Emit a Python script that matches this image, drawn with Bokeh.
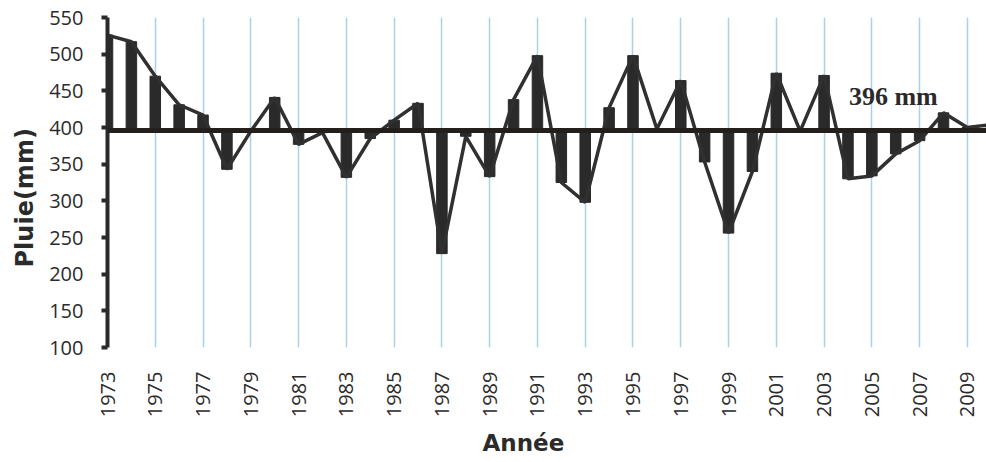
import math
from bokeh.plotting import figure
from bokeh.models import FixedTicker, Range1d, Label, Span, Title
from bokeh.embed import file_html
from bokeh.resources import INLINE

# ---- data ----
years = list(range(1973, 2011))
rain = [526, 517, 470, 431, 417, 343, 395, 441, 377, 393,
        332, 385, 410, 433, 228, 388, 333, 438, 498, 325,
        298, 427, 498, 398, 464, 353, 256, 340, 474, 395,
        471, 330, 334, 364, 382, 420, 400, 404]
mean_rain = 396
mean_label = "396 mm"
x_ticks = list(range(1973, 2010, 2))
y_ticks = list(range(100, 551, 50))
x_title = "Année"
y_title = "Pluie(mm)"

DARK = "#2a2a2a"

p = figure(width=986, height=462, output_backend="svg", toolbar_location=None,
           x_range=Range1d(1973, 2009.8), y_range=Range1d(100, 550),
           min_border_left=107, min_border_right=0, min_border_top=17,
           min_border_bottom=114)
p.outline_line_color = None
p.background_fill_color = "white"
p.border_fill_color = "white"

# grids
p.xgrid.ticker = FixedTicker(ticks=x_ticks)
p.xgrid.grid_line_color = "#a9d3e3"
p.xgrid.grid_line_width = 1.5
p.ygrid.grid_line_color = None

# anomaly bars from mean
p.vbar(x=years, bottom=[mean_rain] * len(years), top=rain, width=0.44,
       fill_color=DARK, line_color=DARK)
# line
p.line(years, rain, line_color="#303030", line_width=3.5)
# mean line
p.add_layout(Span(location=mean_rain, dimension="width", line_color="#231f1c",
                  line_width=5))

# axes
xa = p.xaxis[0]
xa.ticker = FixedTicker(ticks=x_ticks)
xa.axis_line_color = None
xa.major_tick_line_color = None
xa.minor_tick_line_color = None
xa.major_label_orientation = math.pi / 2
xa.major_label_standoff = 18
xa.major_label_text_font = "Open Sans"
xa.major_label_text_font_size = "20px"
xa.major_label_text_color = "#2b2b2b"

ya = p.yaxis[0]
ya.ticker = FixedTicker(ticks=y_ticks)
ya.axis_line_color = DARK
ya.axis_line_width = 4
ya.major_tick_line_color = DARK
ya.major_tick_line_width = 4
ya.major_tick_out = 6
ya.major_tick_in = 0
ya.minor_tick_line_color = None
ya.major_label_standoff = 18
ya.major_label_text_font = "Open Sans"
ya.major_label_text_font_size = "20px"
ya.major_label_text_color = "#2b2b2b"

# axis titles
p.add_layout(Title(text=x_title, align="left", offset=375, standoff=14,
                   text_font="DejaVu Sans", text_font_style="bold",
                   text_font_size="23px", text_color="#2b2b2b"), "below")
p.add_layout(Title(text=y_title, align="left", offset=80, standoff=16,
                   text_font="DejaVu Sans", text_font_style="bold",
                   text_font_size="24px", text_color="#2b2b2b"), "left")

p.add_layout(Label(x=2005.9, y=442, text=mean_label,
                   text_font="Liberation Serif", text_font_style="bold",
                   text_font_size="26px", text_color="#2a2a2a",
                   text_align="center", text_baseline="middle"))

open("out.html", "w").write(file_html(p, INLINE))
